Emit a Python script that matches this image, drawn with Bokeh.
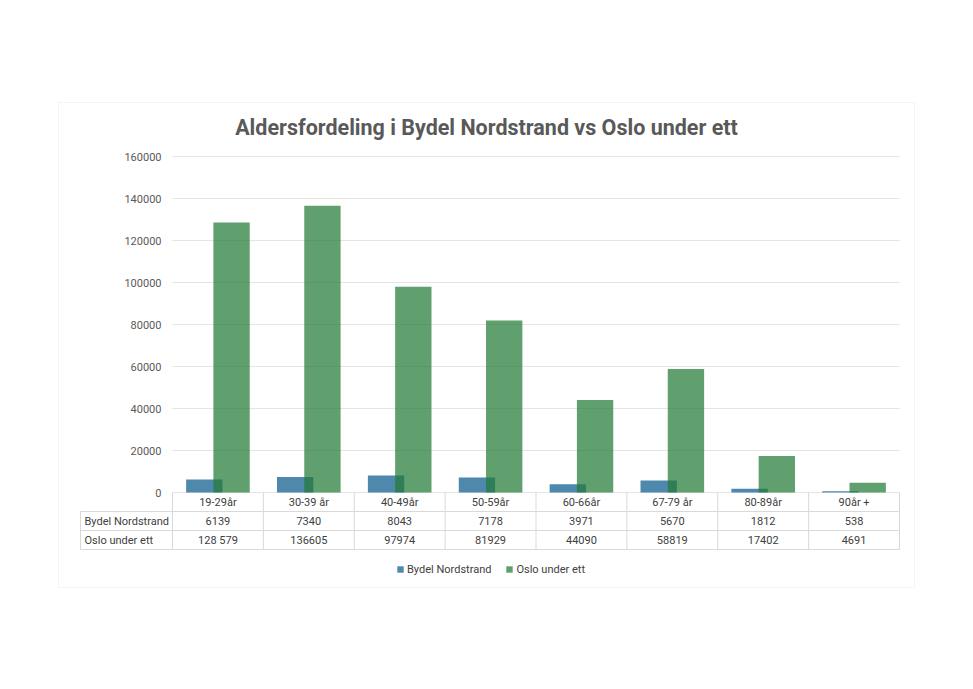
from bokeh.plotting import figure
from bokeh.models import (ColumnDataSource, Range1d, LabelSet, Label,
                          Arrow, BoxAnnotation, Legend, LegendItem, FixedTicker,
                          NumeralTickFormatter)
from bokeh.transform import dodge
from bokeh.embed import file_html
from bokeh.resources import INLINE
from bokeh.core.properties import value

# ---------------- data ----------------
categories = ["19-29år", "30-39 år", "40-49år", "50-59år", "60-66år", "67-79 år", "80-89år", "90år +"]
nordstrand = [6139, 7340, 8043, 7178, 3971, 5670, 1812, 538]
oslo = [128579, 136605, 97974, 81929, 44090, 58819, 17402, 4691]
nordstrand_labels = ["6139", "7340", "8043", "7178", "3971", "5670", "1812", "538"]
oslo_labels = ["128 579", "136605", "97974", "81929", "44090", "58819", "17402", "4691"]
series_names = ["Bydel Nordstrand", "Oslo under ett"]
y_ticks = [0, 20000, 40000, 60000, 80000, 100000, 120000, 140000, 160000]
title_text = "Aldersfordeling i Bydel Nordstrand vs Oslo under ett"

# ---------------- layout (pixels) ----------------
W, H = 973, 689
F_LEFT, F_RIGHT, F_TOP, F_BOTTOM = 172, 899, 156, 492
Y_MAX = 160000
N = len(categories)
COLW = (F_RIGHT - F_LEFT) / N
YPX = (F_BOTTOM - F_TOP) / Y_MAX


def px_x(px):
    return (px - F_LEFT) / COLW


def px_y(py):
    return (F_BOTTOM - py) / YPX


BLUE = "#4f88ad"
GREEN = "#237a36"
TXT = "#404040"
GRID = "#e4e4e4"
FONT = "Roboto"

p = figure(width=W, height=H, x_range=Range1d(px_x(0), px_x(W)), y_range=Range1d(px_y(H), px_y(0)),
           output_backend="svg", toolbar_location=None, x_axis_location=None,
           min_border=0)
p.outline_line_color = None
p.background_fill_color = "white"
p.border_fill_color = "white"

xc = [i + 0.5 for i in range(N)]
src = ColumnDataSource(dict(cat=categories, xc=xc, nord=nordstrand, oslo=oslo,
                            nord_lbl=nordstrand_labels, oslo_lbl=oslo_labels))

# axes / grid
p.xgrid.grid_line_color = None
p.yaxis.fixed_location = 0
p.yaxis.bounds = (0, Y_MAX)
p.yaxis.ticker = FixedTicker(ticks=y_ticks)
p.yaxis.formatter = NumeralTickFormatter(format="0")
p.ygrid.ticker = FixedTicker(ticks=y_ticks)
p.ygrid.bounds = (0, Y_MAX)
p.ygrid.cross_bounds = (0, N)
p.ygrid.grid_line_color = GRID
p.yaxis.axis_line_color = None
p.yaxis.major_tick_line_color = None
p.yaxis.minor_tick_line_color = None
p.yaxis.major_tick_out = 0
p.yaxis.major_tick_in = 0
p.yaxis.major_label_standoff = 11
p.yaxis.major_label_text_font = FONT
p.yaxis.major_label_text_font_size = "11px"
p.yaxis.major_label_text_color = "#595959"

r1 = p.vbar(x=dodge("xc", -0.15), top="nord", width=0.4, source=src,
            fill_color=BLUE, line_color=None)
r2 = p.vbar(x=dodge("xc", 0.15), top="oslo", width=0.4, source=src,
            fill_color=GREEN, fill_alpha=0.72, line_color=None)

# outer chart border
p.add_layout(BoxAnnotation(left=px_x(58), right=px_x(914), top=px_y(102), bottom=px_y(587),
                           fill_alpha=0, line_color="#d9d9d9", line_width=1))

# title
p.add_layout(Label(x=px_x(486), y=px_y(127), text=title_text, text_align="center",
                   text_baseline="middle", text_font=FONT, text_font_size="21.5px",
                   text_font_style="bold", text_color="#595959"))

# data table lines
rows_px = [492, 511, 530, 549]
ry = [px_y(v) for v in rows_px]
xl = px_x(80)
x0s, y0s, x1s, y1s = [], [], [], []
for yy in ry[1:]:
    x0s.append(xl); x1s.append(N); y0s.append(yy); y1s.append(yy)
x0s.append(xl); x1s.append(xl); y0s.append(ry[1]); y1s.append(ry[3])
for i in range(N + 1):
    x0s.append(i); x1s.append(i); y0s.append(ry[0]); y1s.append(ry[3])
line_src = ColumnDataSource(dict(x0=x0s, y0=y0s, x1=x1s, y1=y1s))
p.add_layout(Arrow(end=None, start=None, x_start="x0", y_start="y0", x_end="x1", y_end="y1",
                   source=line_src, line_color="#d9d9d9", line_width=1))

# data table texts
row_centers = [(ry[0] + ry[1]) / 2, (ry[1] + ry[2]) / 2, (ry[2] + ry[3]) / 2]
for field, yc in zip(["cat", "nord_lbl", "oslo_lbl"], row_centers):
    p.add_layout(LabelSet(x="xc", y=yc, text=field, source=src, text_align="center",
                          text_baseline="middle", text_font=value(FONT),
                          text_font_size="11px", text_color=TXT))
for name, yc in zip(series_names, row_centers[1:]):
    p.add_layout(Label(x=px_x(84), y=yc, text=name, text_align="left", text_baseline="middle",
                       text_font=FONT, text_font_size="11px", text_color=TXT))

# legend
legend = Legend(items=[LegendItem(label=series_names[0], renderers=[r1]),
                       LegendItem(label=series_names[1], renderers=[r2])],
                orientation="horizontal", location=(396, H - 576),
                glyph_width=8, glyph_height=8, label_standoff=3, spacing=14,
                padding=0, margin=0, label_height=14,
                label_text_font=FONT, label_text_font_size="11px", label_text_color=TXT,
                border_line_alpha=0, background_fill_alpha=0)
p.add_layout(legend)

open("out.html", "w").write(file_html(p, INLINE))
